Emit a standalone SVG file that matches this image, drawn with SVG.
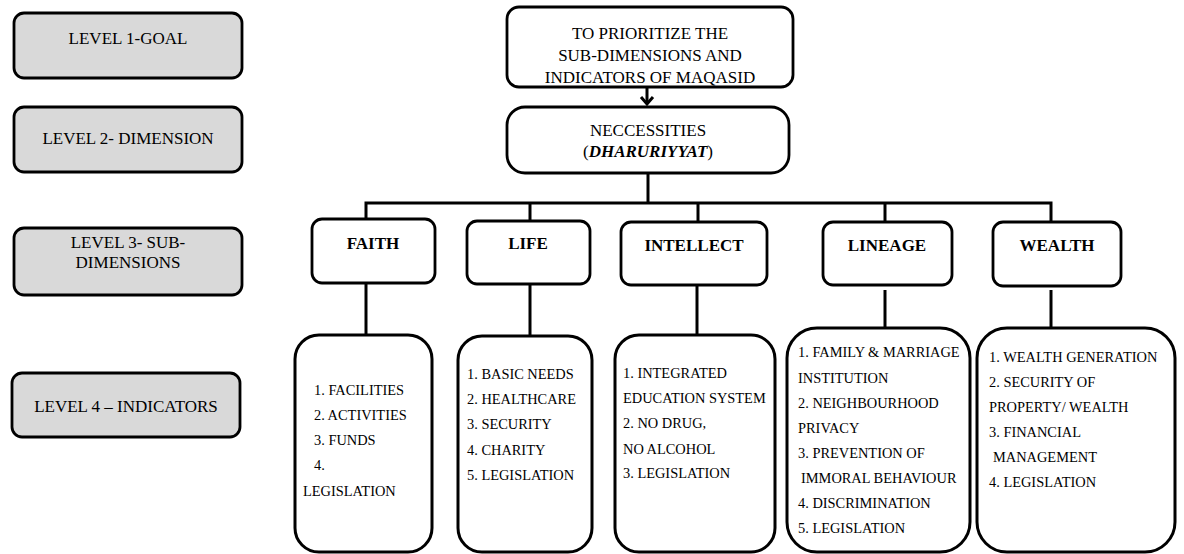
<svg xmlns="http://www.w3.org/2000/svg" width="1184" height="554" viewBox="0 0 1184 554">
<defs>
<style>
.lvl rect{fill:#d9d9d9;stroke:#000;stroke-width:2.8}
.node rect{fill:#fff;stroke:#000;stroke-width:2.8}
.ind rect{stroke-width:3}
text{font-family:"Liberation Serif","Times New Roman",serif;fill:#000}
.t17{font-size:17px}
.c{text-anchor:middle}
.b{font-weight:bold}
.ind text{font-size:14.4px}
.conn{stroke:#000;stroke-width:3;fill:none}
</style>
</defs>
<rect width="1184" height="554" fill="#fff"/>
<g id="level1" class="lvl"><rect x="14" y="13" width="228" height="65" rx="10"/><text class="t17 c" x="128" y="44">LEVEL 1-GOAL</text></g>
<g id="level2" class="lvl"><rect x="14" y="107" width="228" height="65" rx="10"/><text class="t17 c" x="128" y="144">LEVEL 2- DIMENSION</text></g>
<g id="level3" class="lvl"><rect x="14" y="228" width="228" height="67" rx="10"/><text class="t17 c" x="128" y="248">LEVEL 3- SUB-</text><text class="t17 c" x="128" y="268">DIMENSIONS</text></g>
<g id="level4" class="lvl"><rect x="12" y="373" width="228" height="64" rx="10"/><text class="t17 c" x="126" y="412">LEVEL 4 – INDICATORS</text></g>

<g id="connectors" class="conn">
<line x1="647" y1="87" x2="647" y2="104"/>
<polyline points="641,97 647,104 653,97"/>
<line x1="648" y1="173" x2="648" y2="203"/>
<polyline points="366,219 366,203 1051,203 1051,225"/>
<line x1="530" y1="203" x2="530" y2="221"/>
<line x1="698" y1="203" x2="698" y2="222"/>
<line x1="885" y1="203" x2="885" y2="222"/>
<line x1="366" y1="283" x2="366" y2="335"/>
<line x1="530" y1="284" x2="530" y2="336"/>
<line x1="697" y1="285" x2="697" y2="335"/>
<line x1="885" y1="290" x2="885" y2="328"/>
<line x1="1051" y1="290" x2="1051" y2="328"/>
</g>

<g id="goal" class="node"><rect x="507" y="7" width="286" height="80" rx="12"/>
<text class="t17 c" x="650" y="39">TO PRIORITIZE THE</text>
<text class="t17 c" x="650" y="61">SUB-DIMENSIONS AND</text>
<text class="t17 c" x="650" y="83">INDICATORS OF MAQASID</text></g>

<g id="dimension" class="node"><rect x="507" y="107" width="282" height="66" rx="18"/>
<text class="t17 c" x="648" y="136">NECCESSITIES</text>
<text class="t17 c" x="648" y="157">(<tspan font-weight="bold" font-style="italic">DHARURIYYAT</tspan>)</text></g>

<g id="faith" class="node"><rect x="312" y="219" width="123" height="64" rx="10"/><text class="t17 c b" x="373" y="249">FAITH</text></g>
<g id="life" class="node"><rect x="467" y="221" width="123" height="63" rx="10"/><text class="t17 c b" x="528" y="249">LIFE</text></g>
<g id="intellect" class="node"><rect x="621" y="222" width="146" height="63" rx="10"/><text class="t17 c b" x="694" y="251">INTELLECT</text></g>
<g id="lineage" class="node"><rect x="823" y="222" width="129" height="63" rx="10"/><text class="t17 c b" x="887" y="251">LINEAGE</text></g>
<g id="wealth" class="node"><rect x="993" y="222" width="128" height="64" rx="10"/><text class="t17 c b" x="1057" y="251">WEALTH</text></g>

<g id="faith-indicators" class="node ind"><rect x="295" y="335" width="137" height="217" rx="24"/>
<text x="314" y="395">1. FACILITIES</text>
<text x="314" y="420">2. ACTIVITIES</text>
<text x="314" y="445">3. FUNDS</text>
<text x="314" y="470">4.</text>
<text x="303" y="496">LEGISLATION</text></g>

<g id="life-indicators" class="node ind"><rect x="458" y="336" width="134" height="216" rx="24"/>
<text x="467" y="379">1. BASIC NEEDS</text>
<text x="467" y="404">2. HEALTHCARE</text>
<text x="467" y="429">3. SECURITY</text>
<text x="467" y="455">4. CHARITY</text>
<text x="467" y="480">5. LEGISLATION</text></g>

<g id="intellect-indicators" class="node ind"><rect x="615" y="335" width="160" height="217" rx="24"/>
<text x="623" y="378">1. INTEGRATED</text>
<text x="623" y="403">EDUCATION SYSTEM</text>
<text x="623" y="428">2. NO DRUG,</text>
<text x="623" y="454">NO ALCOHOL</text>
<text x="623" y="478">3. LEGISLATION</text></g>

<g id="lineage-indicators" class="node ind"><rect x="787" y="328" width="183" height="224" rx="30"/>
<text x="798" y="357">1. FAMILY &amp; MARRIAGE</text>
<text x="798" y="383">INSTITUTION</text>
<text x="798" y="408">2. NEIGHBOURHOOD</text>
<text x="798" y="433">PRIVACY</text>
<text x="798" y="458">3. PREVENTION OF</text>
<text x="801" y="483">IMMORAL BEHAVIOUR</text>
<text x="798" y="508">4. DISCRIMINATION</text>
<text x="798" y="533">5. LEGISLATION</text></g>

<g id="wealth-indicators" class="node ind"><rect x="977" y="328" width="198" height="224" rx="30"/>
<text x="989" y="362">1. WEALTH GENERATION</text>
<text x="989" y="387">2. SECURITY OF</text>
<text x="989" y="412">PROPERTY/ WEALTH</text>
<text x="989" y="437">3. FINANCIAL</text>
<text x="993" y="462">MANAGEMENT</text>
<text x="989" y="487">4. LEGISLATION</text></g>
</svg>
